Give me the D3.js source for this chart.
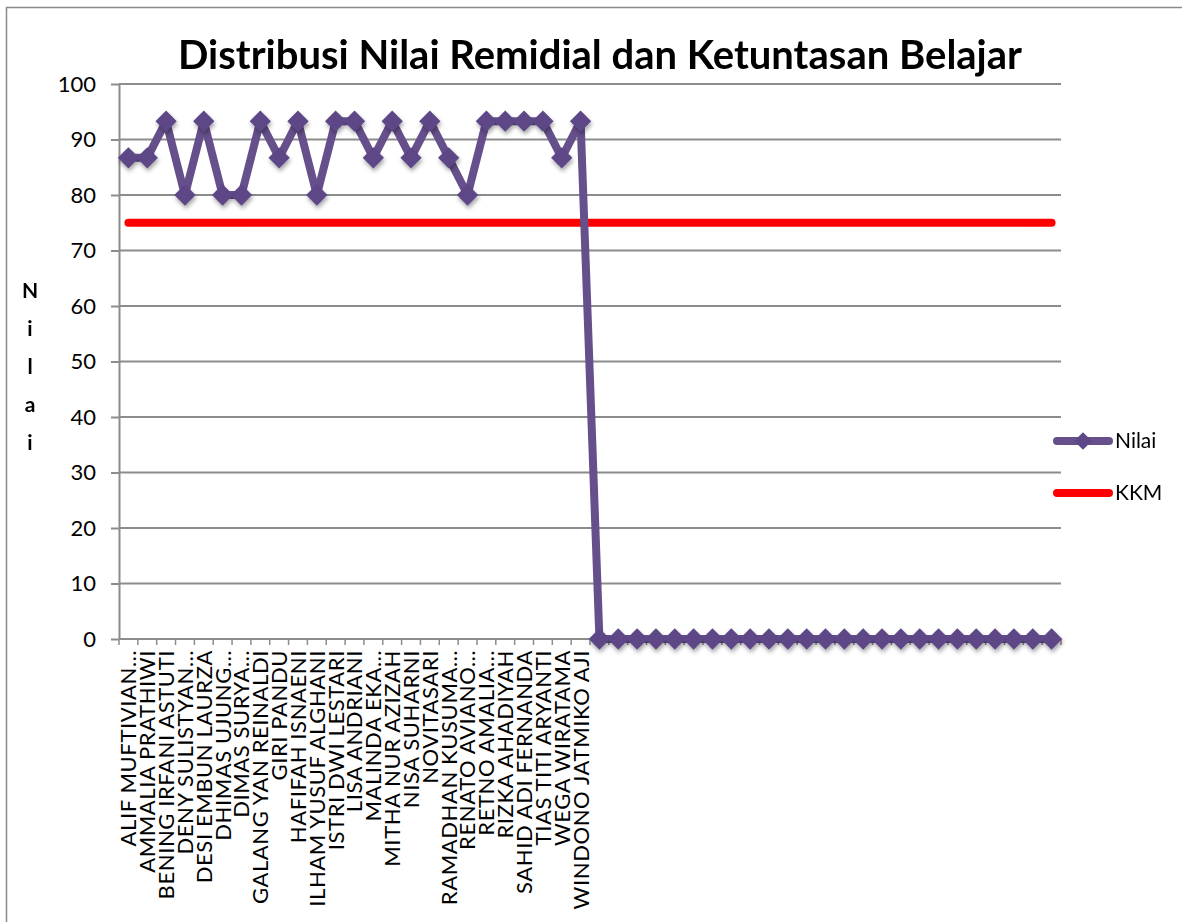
<!DOCTYPE html>
<html>
<head>
<meta charset="utf-8">
<script src="https://cdn.jsdelivr.net/npm/d3@7"></script>
<style>
  body { margin: 0; background: #fff; }
  text { font-family: Lato, "Open Sans", sans-serif; fill: #000; }
</style>
</head>
<body>
<div id="chart"></div>
<script>
// student names (x categories), 25 named + 25 empty slots
var names = [
  'ALIF MUFTIVIAN…', 'AMMALIA PRATHIWI', 'BENING IRFANI ASTUTI', 'DENY SULISTYAN…',
  'DESI EMBUN LAURZA', 'DHIMAS UJUNG…', 'DIMAS SURYA…', 'GALANG YAN REINALDI',
  'GIRI PANDU', 'HAFIFAH ISNAENI', 'ILHAM YUSUF ALGHANI', 'ISTRI DWI LESTARI',
  'LISA ANDRIANI', 'MALINDA EKA…', 'MITHA NUR AZIZAH', 'NISA SUHARNI',
  'NOVITASARI', 'RAMADHAN KUSUMA…', 'RENATO AVIANO…', 'RETNO AMALIA…',
  'RIZKA AHADIYAH', 'SAHID ADI FERNANDA', 'TIAS TITI ARYANTI', 'WEGA WIRATAMA',
  'WINDONO JATMIKO AJI',
  '', '', '', '', '', '', '', '', '', '', '', '', '', '', '', '', '', '', '', '', '', '', '', '', ''
];

// Nilai series (remedial scores)
var nilai = [
  86.7, 86.7, 93.3, 80, 93.3, 80, 80, 93.3, 86.7, 93.3, 80, 93.3, 93.3,
  86.7, 93.3, 86.7, 93.3, 86.7, 80, 93.3, 93.3, 93.3, 93.3, 86.7, 93.3,
  0, 0, 0, 0, 0, 0, 0, 0, 0, 0, 0, 0, 0, 0, 0, 0, 0, 0, 0, 0, 0, 0, 0, 0, 0
];

// KKM threshold series
var kkm = names.map(function() { return 75; });

var yTicks = [0, 10, 20, 30, 40, 50, 60, 70, 80, 90, 100];

var svgWidth = 1182;
var svgHeight = 922;
var margin = { top: 84, right: 121, bottom: 283, left: 119 };
var width = svgWidth - margin.left - margin.right;
var height = svgHeight - margin.top - margin.bottom;

var purple = '#66508c';
var purpleDark = '#5d4787';
var red = '#ff0000';

var svg = d3.select('#chart')
  .append('svg')
  .attr('width', svgWidth)
  .attr('height', svgHeight);

svg.append('rect')
  .attr('width', svgWidth)
  .attr('height', svgHeight)
  .attr('fill', '#fff');

// soft shadow under the markers
var defs = svg.append('defs');
var shadow = defs.append('filter')
  .attr('id', 'shadow')
  .attr('x', '-50%').attr('y', '-50%')
  .attr('width', '200%').attr('height', '200%');
shadow.append('feDropShadow')
  .attr('dx', 1).attr('dy', 3)
  .attr('stdDeviation', 2)
  .attr('flood-color', '#000')
  .attr('flood-opacity', 0.35);

// chart frame
svg.append('rect')
  .attr('x', 6.5)
  .attr('y', 7.5)
  .attr('width', 1300)
  .attr('height', 1000)
  .attr('fill', 'none')
  .attr('stroke', '#8a8a8a')
  .attr('stroke-width', 1.5);

var chartGroup = svg.append('g')
  .attr('transform', `translate(${margin.left}, ${margin.top})`);

var idx = d3.range(names.length);

var xScale = d3.scaleBand()
  .domain(idx)
  .range([0, width]);

var yScale = d3.scaleLinear()
  .domain([0, 100])
  .range([height, 0]);

// gridlines
chartGroup.append('g')
  .selectAll('line')
  .data(yTicks)
  .enter()
  .append('line')
  .attr('x1', 0)
  .attr('x2', width)
  .attr('y1', d => yScale(d))
  .attr('y2', d => yScale(d))
  .attr('stroke', '#8c8c8c')
  .attr('stroke-width', 2);

// y axis
var yAxis = chartGroup.append('g')
  .call(d3.axisLeft(yScale).tickValues(yTicks).tickSize(8).tickSizeOuter(0).tickPadding(15));
yAxis.select('.domain').attr('stroke', '#8c8c8c').attr('stroke-width', 2);
yAxis.selectAll('.tick line').attr('stroke', '#8c8c8c').attr('stroke-width', 2);
yAxis.selectAll('.tick text')
  .style('font-family', 'Lato, "Open Sans", sans-serif')
  .style('font-size', '22px')
  .attr('fill', '#000');

// x axis base line and boundary ticks
var xAxis = chartGroup.append('g')
  .attr('transform', `translate(0, ${height})`);
xAxis.append('line')
  .attr('x1', 0).attr('x2', width)
  .attr('stroke', '#8c8c8c').attr('stroke-width', 2);
xAxis.selectAll('.btick')
  .data(idx.concat([names.length]))
  .enter()
  .append('line')
  .attr('class', 'btick')
  .attr('x1', d => d < names.length ? xScale(d) : width)
  .attr('x2', d => d < names.length ? xScale(d) : width)
  .attr('y1', 0)
  .attr('y2', 6)
  .attr('stroke', '#8c8c8c')
  .attr('stroke-width', 1.5);

// rotated category labels
xAxis.selectAll('.xlabel')
  .data(idx)
  .enter()
  .append('text')
  .attr('class', 'xlabel')
  .attr('transform', d => `translate(${xScale(d) + xScale.bandwidth() / 2}, 11) rotate(-90)`)
  .attr('dy', '0.36em')
  .attr('text-anchor', 'end')
  .style('font-size', '22px')
  .style('letter-spacing', '0.6px')
  .text(d => names[d]);

var cx = d => xScale(d) + xScale.bandwidth() / 2;

// KKM line
var line = d3.line()
  .x(d => cx(d.i))
  .y(d => yScale(d.v));

chartGroup.append('path')
  .datum(idx.map(i => ({ i: i, v: kkm[i] })))
  .attr('d', line)
  .attr('fill', 'none')
  .attr('stroke', red)
  .attr('stroke-width', 8)
  .attr('stroke-linecap', 'round');

// Nilai line
chartGroup.append('path')
  .datum(idx.map(i => ({ i: i, v: nilai[i] })))
  .attr('d', line)
  .attr('fill', 'none')
  .attr('stroke', purple)
  .attr('stroke-width', 8)
  .attr('stroke-linejoin', 'round');

var diamond = d3.symbol().type(d3.symbolDiamond2).size(290);

chartGroup.append('g')
  .attr('filter', 'url(#shadow)')
  .selectAll('path')
  .data(idx)
  .enter()
  .append('path')
  .attr('transform', d => `translate(${cx(d)}, ${yScale(nilai[d])})`)
  .attr('d', diamond)
  .attr('fill', purpleDark);

// title
svg.append('text')
  .attr('x', 600)
  .attr('y', 69)
  .attr('text-anchor', 'middle')
  .style('font-size', '40px')
  .style('font-weight', 'bold')
  .text('Distribusi Nilai Remidial dan Ketuntasan Belajar');

// y label, one letter per row
var yLetters = ['N', 'i', 'l', 'a', 'i'];
svg.append('g')
  .selectAll('text')
  .data(yLetters)
  .enter()
  .append('text')
  .attr('x', 30)
  .attr('y', (d, i) => 298 + i * 38)
  .attr('text-anchor', 'middle')
  .style('font-size', '21px')
  .style('font-weight', 'bold')
  .text(d => d);

// legend
var legendItems = [
  { name: 'Nilai', color: purple, marker: true },
  { name: 'KKM', color: red, marker: false }
];
var legend = svg.append('g')
  .attr('transform', 'translate(1057, 441)');
var item = legend.selectAll('g')
  .data(legendItems)
  .enter()
  .append('g')
  .attr('transform', (d, i) => `translate(0, ${i * 52})`);
item.append('line')
  .attr('x1', 0).attr('x2', 52)
  .attr('stroke', d => d.color)
  .attr('stroke-width', 8)
  .attr('stroke-linecap', 'round');
item.filter(d => d.marker)
  .append('path')
  .attr('transform', 'translate(26, 0)')
  .attr('d', d3.symbol().type(d3.symbolDiamond2).size(200))
  .attr('fill', purpleDark);
item.append('text')
  .attr('x', 58)
  .attr('dy', '0.35em')
  .style('font-size', '21px')
  .text(d => d.name);
</script>
</body>
</html>
